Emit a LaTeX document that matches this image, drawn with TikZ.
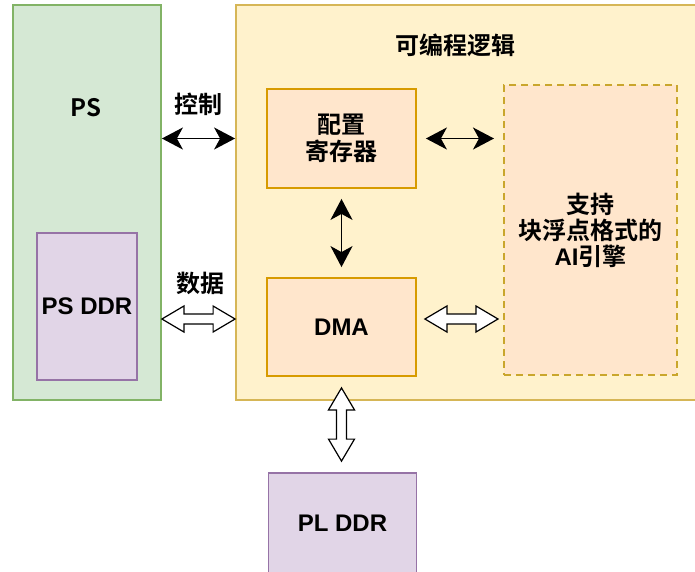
\documentclass[tikz,border=0pt]{standalone}
\usepackage{fontspec}
\setmainfont{Liberation Sans}
\newfontfamily\cjk{Noto Sans CJK SC}[BoldFont={Noto Sans CJK SC Bold}]
\usetikzlibrary{arrows.meta,calc}

\definecolor{psfill}{HTML}{D5E8D4}
\definecolor{psline}{HTML}{82B366}
\definecolor{ddrfill}{HTML}{E1D5E7}
\definecolor{ddrline}{HTML}{9673A6}
\definecolor{plfill}{HTML}{FFF2CC}
\definecolor{plline}{HTML}{D6B656}
\definecolor{regfill}{HTML}{FFE6CC}
\definecolor{regline}{HTML}{D79B00}
\definecolor{ailine}{HTML}{C9A62C}

\tikzset{
  box/.style={draw, line width=1.8pt, inner sep=0pt, align=center,
    font=\fontsize{24}{26}\selectfont\bfseries},
  psbox/.style={box, fill=psfill, draw=psline},
  ddrbox/.style={box, fill=ddrfill, draw=ddrline},
  plbox/.style={box, fill=plfill, draw=plline},
  regbox/.style={box, fill=regfill, draw=regline},
  aibox/.style={box, fill=regfill, draw=ailine, line width=2pt, dash pattern=on 7pt off 5pt},
  txt/.style={font=\fontsize{24}{26}\selectfont\bfseries\cjk},
  ctrl/.style={draw=black, line width=1.8pt,
    arrows={Stealth[length=21pt,width=22pt,inset=6pt]-Stealth[length=21pt,width=22pt,inset=6pt]}},
  % hollow block arrow between two points
  dataflow/.style={draw=black, fill=white, line width=1.2pt, line join=miter,
    to path={
      -- ($(\tikztostart)!22pt!(\tikztotarget)!13pt!90:(\tikztotarget)$)
      -- ($(\tikztostart)!22pt!(\tikztotarget)!5pt!90:(\tikztotarget)$)
      -- ($(\tikztotarget)!22pt!(\tikztostart)!5pt!-90:(\tikztostart)$)
      -- ($(\tikztotarget)!22pt!(\tikztostart)!13pt!-90:(\tikztostart)$)
      -- (\tikztotarget)
      -- ($(\tikztotarget)!22pt!(\tikztostart)!13pt!90:(\tikztostart)$)
      -- ($(\tikztotarget)!22pt!(\tikztostart)!5pt!90:(\tikztostart)$)
      -- ($(\tikztostart)!22pt!(\tikztotarget)!5pt!-90:(\tikztotarget)$)
      -- ($(\tikztostart)!22pt!(\tikztotarget)!13pt!-90:(\tikztotarget)$)
      -- cycle}}
}

\begin{document}
\begin{tikzpicture}[x=1pt,y=-1pt]
  \clip (0,0) rectangle (695,571);

  % PS side
  \node[psbox, minimum width=148pt, minimum height=395pt] (ps) at (87,202.5) {};
  \node[txt] (pstitle) at (86,108) {PS};
  \node[ddrbox, minimum width=100pt, minimum height=147pt] (psddr) at (87,306.5) {PS DDR};

  % programmable logic
  \node[plbox, minimum width=484pt, minimum height=395pt] (pl) at (478,202.5) {};
  \node[txt] (pltitle) at (455,45) {可编程逻辑};
  \node[regbox, minimum width=149pt, minimum height=99pt, font=\fontsize{24}{27}\selectfont\bfseries\cjk]
    (cfg) at (341.5,138.5) {配置\\寄存器};
  \node[regbox, minimum width=149pt, minimum height=98pt] (dma) at (341.5,327) {DMA};
  \node[aibox, minimum width=173pt, minimum height=290pt] (ai) at (590.5,230)
    {{\cjk 支持}\\{\cjk 块浮点格式的}\\AI{\cjk 引擎}};

  \node[ddrbox, minimum width=148pt, minimum height=100pt] (plddr) at (342.5,523) {PL DDR};

  \coordinate (dataline) at ([yshift=8pt]dma.east);

  % control paths
  \draw[ctrl] (ps.east |- cfg.east) -- (pl.west |- cfg.east);
  \node[txt] (ctrllabel) at (198,104) {控制};
  \draw[ctrl] ([xshift=9pt]cfg.east) -- ([xshift=-9pt]ai.west |- cfg.east);
  \draw[ctrl] ([yshift=-10pt]cfg.south) -- ([yshift=10pt]dma.north);

  % data paths
  \draw[dataflow] (ps.east |- dataline) to (pl.west |- dataline);
  \node[txt] (datalabel) at (200,283) {数据};
  \draw[dataflow] ([xshift=8pt]dataline) to ([xshift=-5pt]ai.west |- dataline);
  \draw[dataflow] ([yshift=-11pt]dma.south) to ([yshift=11pt]dma.south |- plddr.north);
\end{tikzpicture}
\end{document}
